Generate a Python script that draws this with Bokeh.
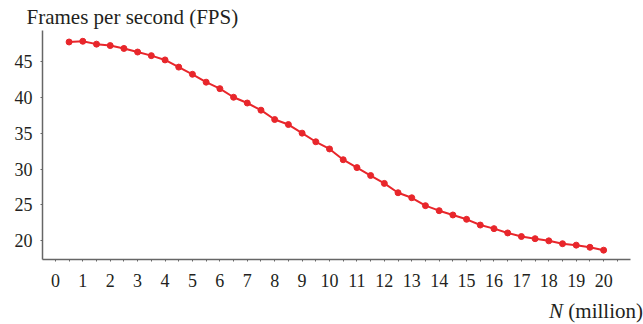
from bokeh.plotting import figure
from bokeh.models import Range1d, FixedTicker, Div
from bokeh.layouts import column
from bokeh.embed import file_html
from bokeh.resources import INLINE

n_million = [0.5, 1.0, 1.5, 2.0, 2.5, 3.0, 3.5, 4.0, 4.5, 5.0,
             5.5, 6.0, 6.5, 7.0, 7.5, 8.0, 8.5, 9.0, 9.5, 10.0,
             10.5, 11.0, 11.5, 12.0, 12.5, 13.0, 13.5, 14.0, 14.5, 15.0,
             15.5, 16.0, 16.5, 17.0, 17.5, 18.0, 18.5, 19.0, 19.5, 20.0]
fps = [47.7, 47.8, 47.4, 47.2, 46.8, 46.3, 45.8, 45.2, 44.2, 43.2,
       42.1, 41.2, 40.0, 39.2, 38.2, 36.9, 36.2, 35.0, 33.8, 32.8,
       31.3, 30.2, 29.1, 28.0, 26.7, 26.0, 24.9, 24.2, 23.6, 23.0,
       22.2, 21.7, 21.1, 20.6, 20.3, 20.0, 19.6, 19.4, 19.1, 18.7]
x_ticks = list(range(0, 21))
y_ticks = [20, 25, 30, 35, 40, 45]
title_text = "Frames per second (FPS)"
x_label_var = "N"
x_label_unit = "(million)"

FONT = "Liberation Serif"
RED = "#e8262b"
AXIS = "#666666"
TXT = "#231f20"

p = figure(width=643, height=296, output_backend="svg", toolbar_location=None,
           x_range=Range1d(-0.47, 20.98), y_range=Range1d(17.4, 49.3),
           min_border_left=42, min_border_right=13, min_border_top=27, min_border_bottom=37)
p.outline_line_color = None
p.grid.grid_line_color = None
p.background_fill_color = None

p.title.text = title_text
p.title.align = "left"
p.title.offset = -16
p.title.standoff = 4
p.title.text_font = FONT
p.title.text_font_size = "21px"
p.title.text_font_style = "normal"
p.title.text_color = TXT

p.line(n_million, fps, line_color=RED, line_width=2)
p.scatter(n_million, fps, size=6, fill_color=RED, line_color=RED)

for ax in (p.xaxis, p.yaxis):
    ax.axis_line_color = AXIS
    ax.axis_line_width = 1.5
    ax.major_tick_line_color = AXIS
    ax.minor_tick_line_color = AXIS
    ax.major_tick_in = 0
    ax.minor_tick_in = 0
    ax.major_tick_out = 2
    ax.minor_tick_out = 2
    ax.major_label_text_font = FONT
    ax.major_label_text_font_size = "18px"
    ax.major_label_text_color = TXT

p.xaxis.ticker = FixedTicker(ticks=x_ticks, minor_ticks=[v + 0.5 for v in x_ticks])
p.yaxis.ticker = FixedTicker(ticks=y_ticks, minor_ticks=[])
p.xaxis.major_label_standoff = 12
p.yaxis.major_label_standoff = 8

label = Div(
    text=('<div style="width:641px;text-align:right;white-space:nowrap;'
          'font-family:\'Liberation Serif\';font-size:21px;line-height:21px;'
          'color:%s;padding-top:5px;margin:0"><i>%s</i> %s</div>'
          % (TXT, x_label_var, x_label_unit)),
    width=643, height=28, margin=(0, 0, 0, 0),
    styles={"width": "643px", "text-align": "right"})

layout = column(p, label, spacing=0)
open("out.html", "w").write(file_html(layout, INLINE))
